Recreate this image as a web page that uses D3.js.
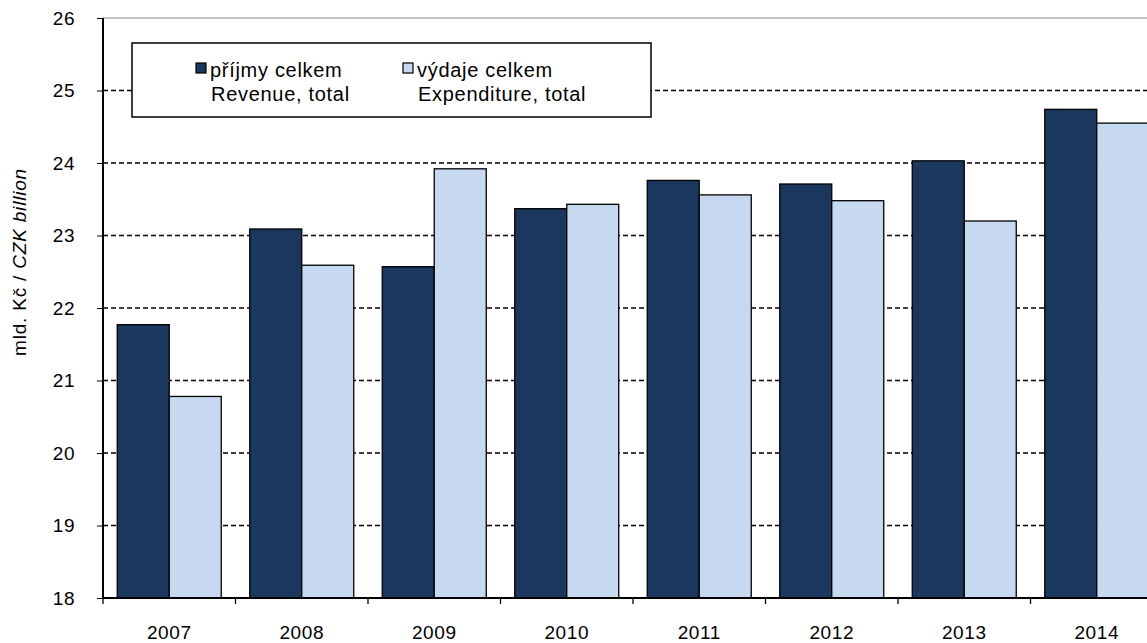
<!DOCTYPE html>
<html>
<head>
<meta charset="utf-8">
<script src="https://cdn.jsdelivr.net/npm/d3@7"></script>
<style>
  body { margin: 0; background: #fff; }
  svg text { font-family: "Liberation Sans", Arial, sans-serif; fill: #000; }
</style>
</head>
<body>
<svg id="chart" width="1147" height="643"></svg>
<script>
// roky a hodnoty (mld. Kč)
const years = ["2007", "2008", "2009", "2010", "2011", "2012", "2013", "2014"];
const revenue = [21.77, 23.09, 22.57, 23.37, 23.76, 23.71, 24.03, 24.74];
const expenditure = [20.78, 22.59, 23.92, 23.43, 23.56, 23.48, 23.20, 24.55];
const yTicks = [18, 19, 20, 21, 22, 23, 24, 25, 26];
const seriesNames = [
  ["příjmy celkem", "Revenue, total"],
  ["výdaje celkem", "Expenditure, total"]
];
const colors = ["#1b375e", "#c6d9f0"];

const svg = d3.select("#chart");
const pLeft = 103, pTop = 18, pBottom = 598, pRight = 1163;

const x = d3.scaleBand().domain(years).range([pLeft, pRight]);
const y = d3.scaleLinear().domain([18, 26]).range([pBottom, pTop]);
const sub = d3.scaleBand().domain([0, 1]).range([0, 104]);
const off = (x.bandwidth() - 104) / 2;

// mrizka
svg.append("g")
  .selectAll("line")
  .data(yTicks.filter(t => t > 18 && t < 26))
  .join("line")
  .attr("x1", pLeft).attr("x2", pRight)
  .attr("y1", d => y(d)).attr("y2", d => y(d))
  .attr("stroke", "#000")
  .attr("stroke-width", 1.3)
  .attr("stroke-dasharray", "5,3");

svg.append("line")
  .attr("x1", pLeft).attr("x2", pRight)
  .attr("y1", y(26)).attr("y2", y(26))
  .attr("stroke", "#888").attr("stroke-width", 1);

// sloupce
const rows = years.map((yr, i) => ({ year: yr, vals: [revenue[i], expenditure[i]] }));
svg.append("g")
  .selectAll("g")
  .data(rows)
  .join("g")
  .attr("transform", d => `translate(${x(d.year) + off},0)`)
  .selectAll("rect")
  .data(d => d.vals.map((v, k) => ({ v, k })))
  .join("rect")
  .attr("x", d => sub(d.k))
  .attr("width", sub.bandwidth())
  .attr("y", d => y(d.v))
  .attr("height", d => y(18) - y(d.v))
  .attr("fill", d => colors[d.k])
  .attr("stroke", "#000")
  .attr("stroke-width", 1.3);

// osa y
const yAxis = svg.append("g")
  .attr("transform", `translate(${pLeft},0)`)
  .call(d3.axisLeft(y).tickValues(yTicks).tickSize(6).tickPadding(22));
yAxis.select(".domain").attr("stroke-width", 2).attr("d", `M0,${pTop}V${pBottom}`);
yAxis.selectAll("text").attr("font-size", 19).style("letter-spacing", "0.5px");

// osa x
const xAxis = svg.append("g")
  .attr("transform", `translate(0,${pBottom})`)
  .call(d3.axisBottom(x).tickSize(0).tickPadding(28));
xAxis.select(".domain").attr("stroke-width", 2).attr("d", `M${pLeft},0H${pRight}`);
xAxis.selectAll("text").attr("font-size", 19).style("letter-spacing", "0.6px");
xAxis.selectAll(".sep")
  .data(years.concat(["end"]))
  .join("line")
  .attr("class", "sep")
  .attr("x1", (d, i) => pLeft + i * x.step())
  .attr("x2", (d, i) => pLeft + i * x.step())
  .attr("y1", 0).attr("y2", 6)
  .attr("stroke", "#000").attr("stroke-width", 1.3);

// popisek osy y
const yl = svg.append("text")
  .attr("transform", "translate(26,262) rotate(-90)")
  .attr("text-anchor", "middle")
  .attr("font-size", 19)
  .style("letter-spacing", "0.8px");
yl.append("tspan").text("mld. Kč / ");
yl.append("tspan").attr("font-style", "italic").text("CZK billion");

// legenda
const leg = svg.append("g");
leg.append("rect")
  .attr("x", 132).attr("y", 43).attr("width", 519).attr("height", 74)
  .attr("fill", "#fff").attr("stroke", "#000").attr("stroke-width", 1.5);
const items = leg.selectAll(".item")
  .data(seriesNames)
  .join("g")
  .attr("class", "item")
  .attr("transform", (d, i) => `translate(${196 + i * 207},0)`);
items.append("rect")
  .attr("x", 0).attr("y", 63).attr("width", 10).attr("height", 10)
  .attr("fill", (d, i) => colors[i])
  .attr("stroke", "#000").attr("stroke-width", 1.2);
items.append("text")
  .attr("x", 14).attr("y", 77)
  .attr("font-size", 20).style("letter-spacing", "0.7px")
  .text(d => d[0]);
items.append("text")
  .attr("x", 15).attr("y", 101)
  .attr("font-size", 20).style("letter-spacing", "0.7px")
  .text(d => d[1]);
</script>
</body>
</html>
